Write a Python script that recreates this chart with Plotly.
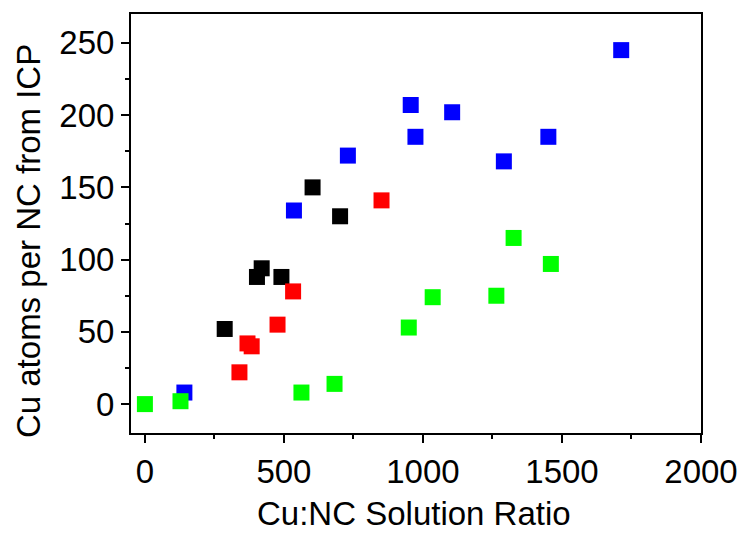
import plotly.graph_objects as go

black_x = [287, 403, 420, 491, 603, 702]
black_y = [52, 88, 94, 88, 150, 130]
red_x = [340, 369, 384, 477, 533, 851]
red_y = [22, 42, 40, 55, 78, 141]
blue_x = [142, 536, 730, 956, 973, 1105, 1291, 1451, 1713]
blue_y = [8, 134, 172, 207, 185, 202, 168, 185, 245]
green_x = [0, 128, 563, 682, 949, 1035, 1264, 1326, 1460]
green_y = [0, 2, 8, 14, 53, 74, 75, 115, 97]

x_title = "Cu:NC Solution Ratio"
y_title = "Cu atoms per NC from ICP"

fig = go.Figure()
for xs, ys, c in [(black_x, black_y, "#000000"), (red_x, red_y, "#FF0000"),
                  (blue_x, blue_y, "#0000FF"), (green_x, green_y, "#00FF00")]:
    fig.add_trace(go.Scatter(x=xs, y=ys, mode="markers",
                             marker=dict(symbol="square", size=16, color=c, line=dict(width=0)),
                             showlegend=False))

font = dict(family="Liberation Sans, Arial, sans-serif", size=33, color="black")
axis_common = dict(showline=True, linecolor="black", linewidth=2, mirror=True,
                   ticks="outside", ticklen=8, tickwidth=2, tickcolor="black",
                   showgrid=False, zeroline=False, tickfont=font, automargin=False)
fig.update_xaxes(range=[-50, 2000], tickvals=[0, 500, 1000, 1500, 2000],
                 minor=dict(tickvals=[250, 750, 1250, 1750], ticks="outside", ticklen=4, tickwidth=2, tickcolor="black"),
                 **axis_common)
fig.update_yaxes(range=[-20, 270], tickvals=[0, 50, 100, 150, 200, 250],
                 minor=dict(tickvals=[25, 75, 125, 175, 225], ticks="outside", ticklen=4, tickwidth=2, tickcolor="black"),
                 **axis_common)
fig.add_annotation(text=x_title, xref="paper", yref="paper", x=0.4965, y=-0.2375,
                   xanchor="center", yanchor="bottom", showarrow=False, font=font, borderpad=0)
fig.add_annotation(text=y_title, xref="paper", yref="paper", x=-0.1807, y=0.458,
                   xanchor="center", yanchor="middle", textangle=-90, showarrow=False, font=font)
fig.update_layout(width=738, height=533, margin=dict(l=131, r=37, t=14, b=100),
                  plot_bgcolor="white", paper_bgcolor="white", font=font)
fig.write_html("out.html")
